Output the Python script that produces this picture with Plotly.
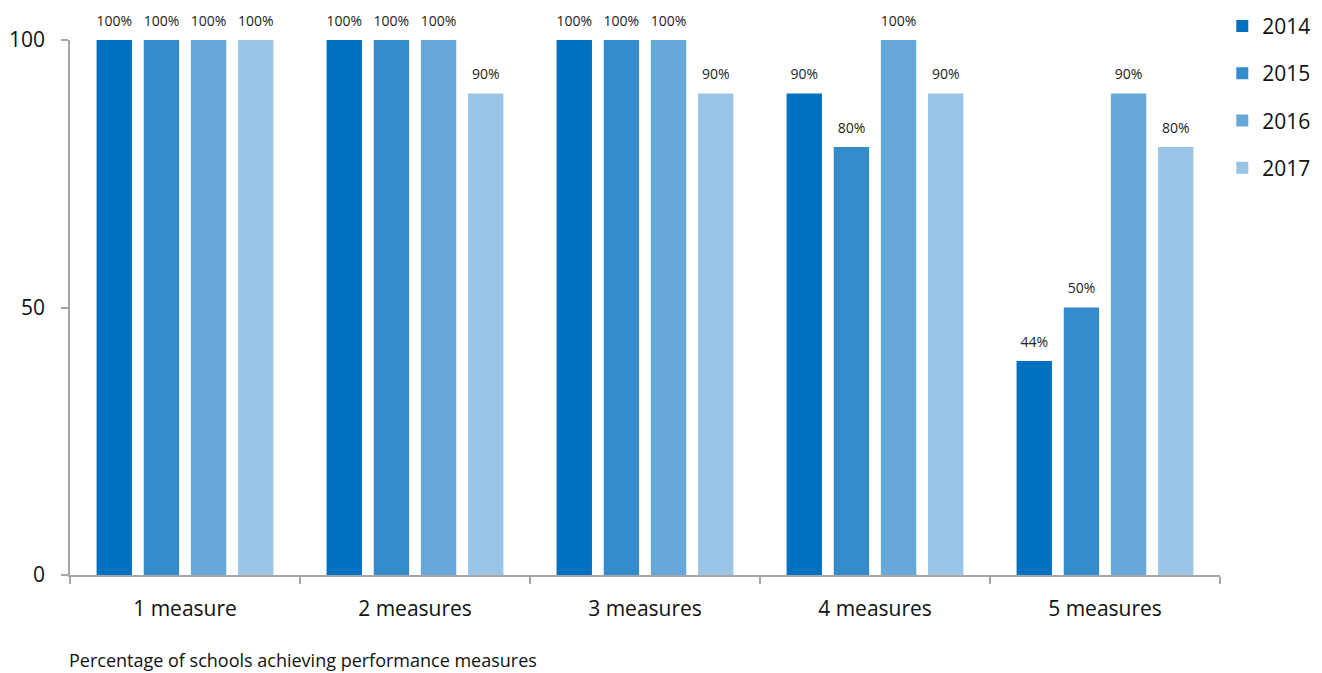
import plotly.graph_objects as go

categories = ["1 measure", "2 measures", "3 measures", "4 measures", "5 measures"]
years = ["2014", "2015", "2016", "2017"]
values = {
    "2014": [100, 100, 100, 90, 40],
    "2015": [100, 100, 100, 80, 50],
    "2016": [100, 100, 100, 100, 90],
    "2017": [100, 90, 90, 90, 80],
}
labels = {
    "2014": ["100%", "100%", "100%", "90%", "44%"],
    "2015": ["100%", "100%", "100%", "80%", "50%"],
    "2016": ["100%", "100%", "100%", "100%", "90%"],
    "2017": ["100%", "90%", "90%", "90%", "80%"],
}
colors = {"2014": "#0070C0", "2015": "#358CCD", "2016": "#66A8D8", "2017": "#9AC4E6"}

FONT = "Open Sans"
fig = go.Figure()
for y in years:
    fig.add_trace(go.Bar(
        x=categories, y=values[y], name=y,
        marker=dict(color=colors[y], line=dict(width=0)),
        offsetgroup=y, legendgroup=y,
    ))
for y in years:
    fig.add_trace(go.Scatter(
        x=categories, y=values[y], mode="markers+text", text=labels[y],
        textposition="top center",
        textfont=dict(size=14, color="#222222", family=FONT),
        marker=dict(size=16, opacity=0, color=colors[y]),
        offsetgroup=y, showlegend=False, cliponaxis=False, hoverinfo="skip",
    ))

# page body has an 8px margin; figure is sized/offset to compensate
fig.update_layout(
    width=1314, height=665,
    margin=dict(l=62, r=102, t=32, b=98, autoexpand=False),
    paper_bgcolor="white", plot_bgcolor="white",
    barmode="group", bargap=0.18, bargroupgap=0.25,
    scattermode="group", scattergap=0.18,
    font=dict(family=FONT, color="#111111"),
    showlegend=True,
    legend=dict(x=1.002, y=1.064, xanchor="left", yanchor="top",
                font=dict(size=21, family=FONT), tracegroupgap=17,
                itemwidth=30, bgcolor="rgba(0,0,0,0)"),
)
fig.update_xaxes(
    showline=True, linecolor="#A6A6A6", linewidth=1.5,
    ticks="outside", tickson="boundaries", ticklen=7, tickcolor="#A6A6A6", tickwidth=1.5,
    tickfont=dict(size=21, family=FONT, color="#111111"),
    showgrid=False, zeroline=False, ticklabelstandoff=14,
)
fig.update_yaxes(
    range=[0, 100], tickvals=[0, 50, 100],
    showline=True, linecolor="#A6A6A6", linewidth=1.5,
    ticks="outside", ticklen=7, tickcolor="#A6A6A6", tickwidth=1.5,
    tickfont=dict(size=21, family=FONT, color="#111111"),
    showgrid=False, zeroline=False, ticklabelstandoff=12,
)
fig.add_annotation(
    text="Percentage of schools achieving performance measures",
    xref="paper", yref="paper", x=-0.003, y=-0.158, xanchor="left", yanchor="middle",
    showarrow=False, font=dict(size=18, family=FONT, color="#111111"),
)
fig.write_html("out.html")
